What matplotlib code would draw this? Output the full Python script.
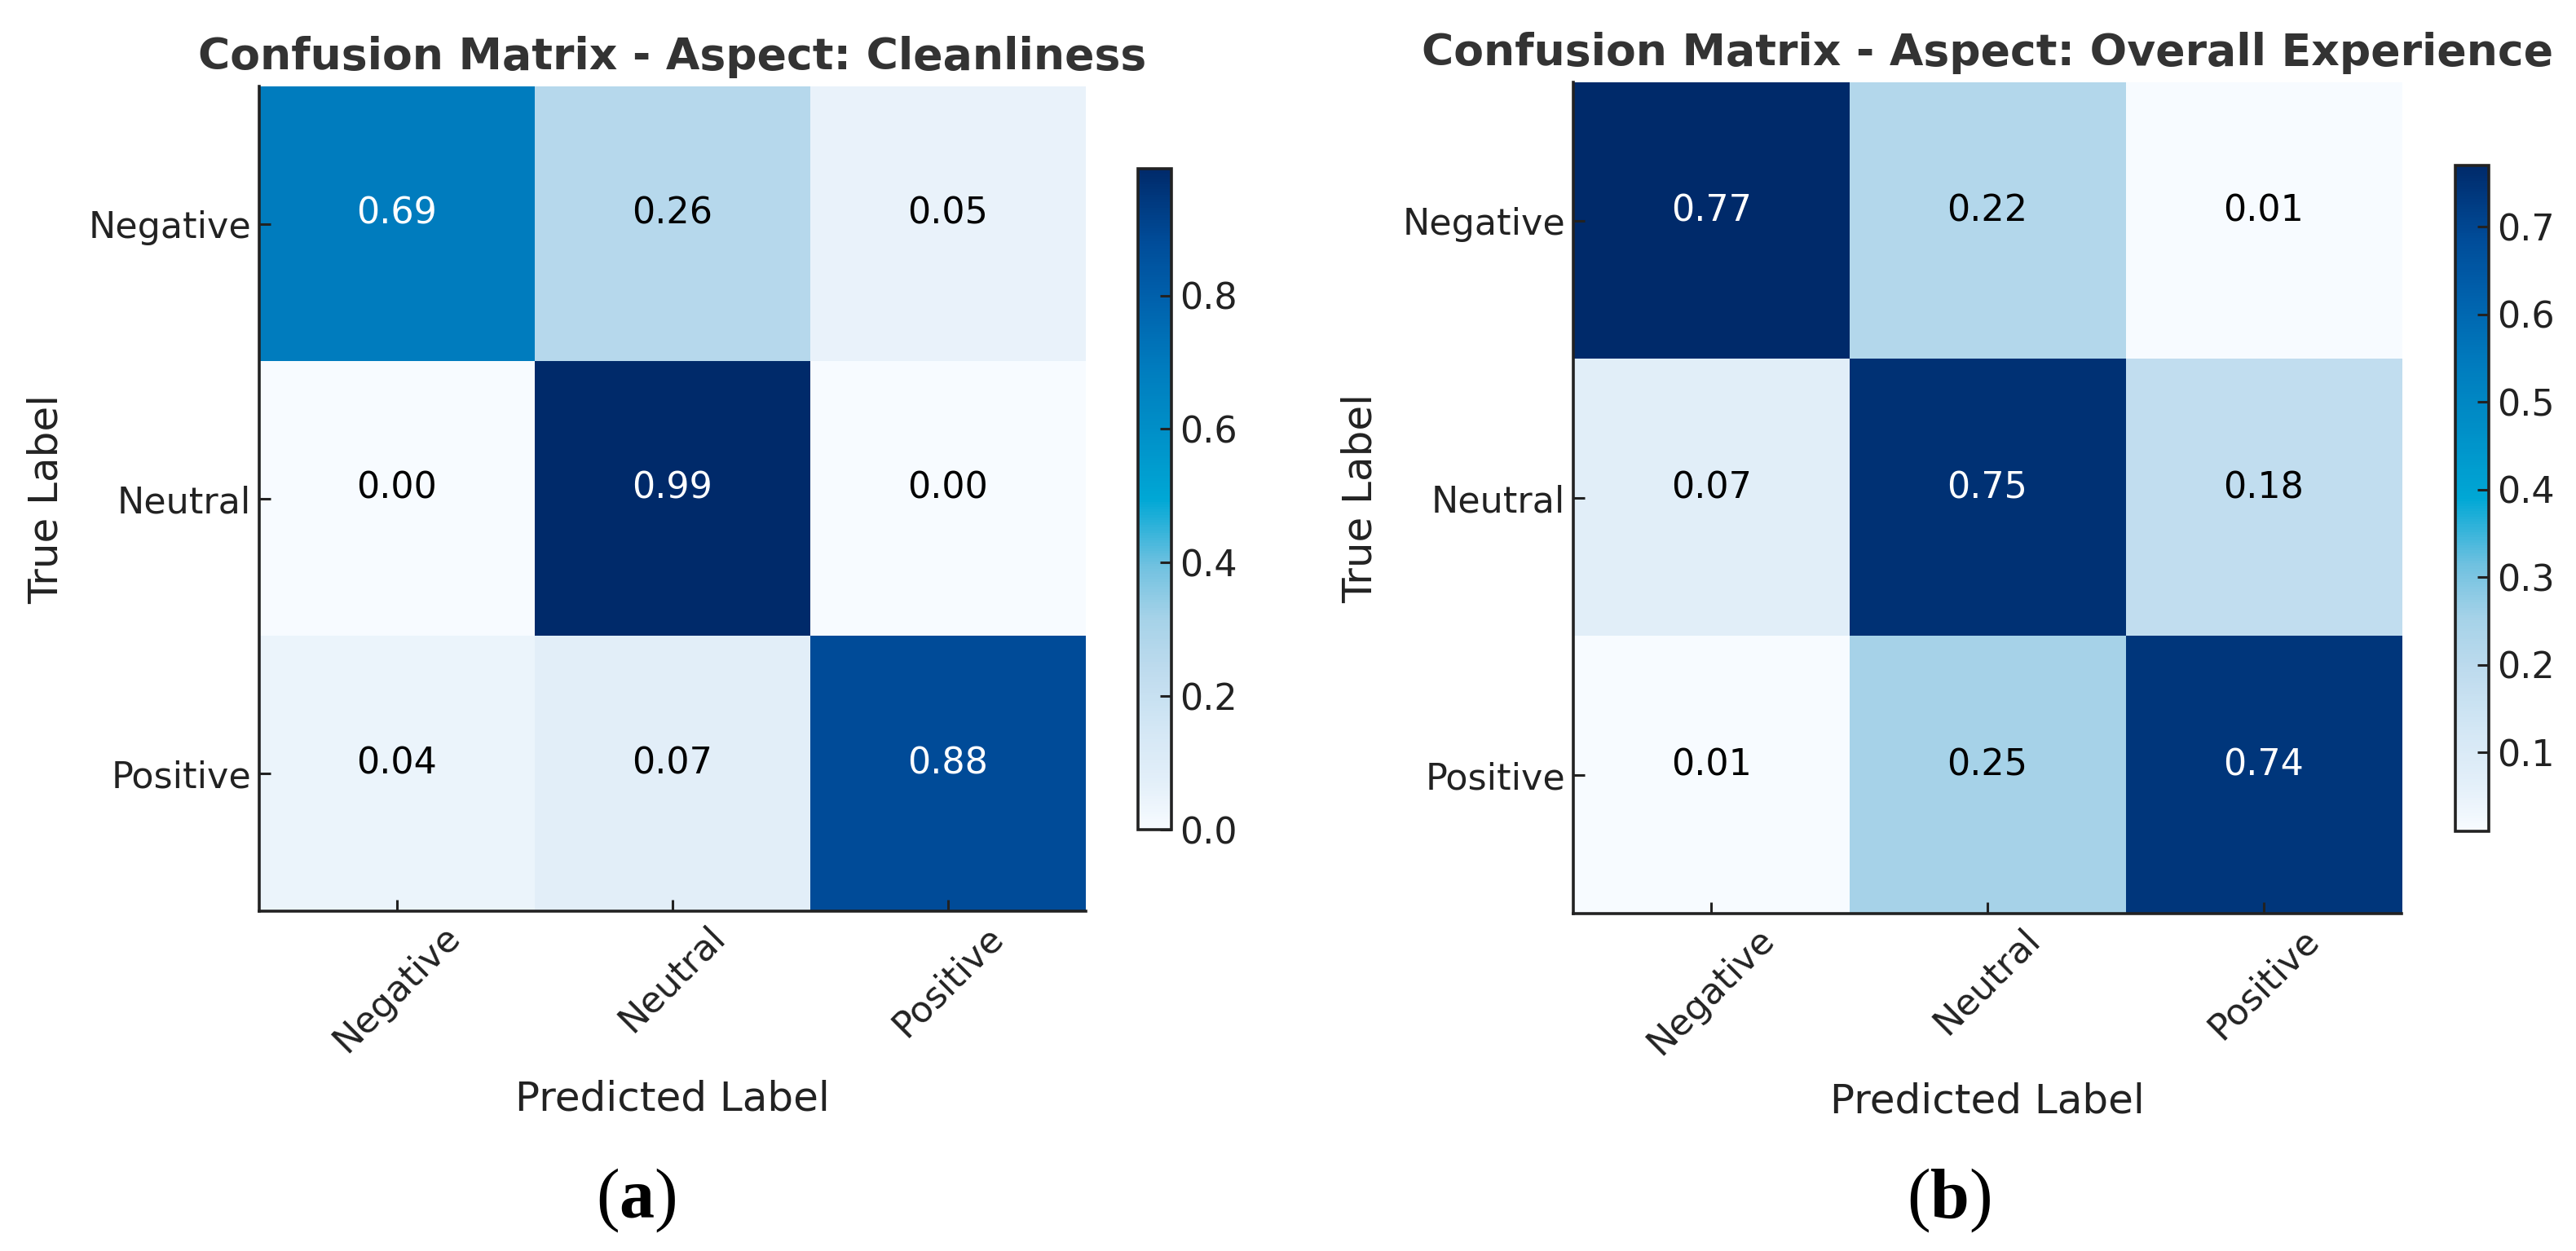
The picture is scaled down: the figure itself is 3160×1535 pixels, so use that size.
import numpy as np
import matplotlib.pyplot as plt
from matplotlib.colors import LinearSegmentedColormap

# Datos de las dos matrices de confusión
class_labels = ['Negative', 'Neutral', 'Positive']
cm_cleanliness = [[0.69, 0.26, 0.05],
                  [0.00, 0.99, 0.00],
                  [0.04, 0.07, 0.88]]
cm_overall = [[0.77, 0.22, 0.01],
              [0.07, 0.75, 0.18],
              [0.01, 0.25, 0.74]]
titles = ['Confusion Matrix - Aspect: Cleanliness',
          'Confusion Matrix - Aspect: Overall Experience']
cbar_ticks_a = [0.0, 0.2, 0.4, 0.6, 0.8]
cbar_ticks_b = [0.1, 0.2, 0.3, 0.4, 0.5, 0.6, 0.7]
panel_tags = ['a', 'b']

# Configuración
W, H = 3160, 1535
plt.rcParams['font.family'] = ['DejaVu Sans']
plt.rcParams['mathtext.fontset'] = 'custom'
plt.rcParams['mathtext.bf'] = 'Liberation Serif:bold'
plt.rcParams['mathtext.rm'] = 'Liberation Serif'

INK = '#222222'

blues = LinearSegmentedColormap.from_list('blues_vivid', [
    (0.00, '#f7fbff'),
    (0.07, '#e3eff9'),
    (0.15, '#d4e7f5'),
    (0.25, '#bbdaed'),
    (0.32, '#a5d2e8'),
    (0.40, '#6fc1e0'),
    (0.50, '#00a7d5'),
    (0.60, '#0090c8'),
    (0.70, '#007cbe'),
    (0.80, '#0062ad'),
    (0.89, '#004c99'),
    (0.96, '#00377c'),
    (1.00, '#002a6a'),
])


def px_box(x0, y0, x1, y1):
    """Caja en píxeles de la imagen -> fracción de figura"""
    return [x0 / W, 1 - y1 / H, (x1 - x0) / W, (y1 - y0) / H]


fig = plt.figure(figsize=(W / 200, H / 200), dpi=200)

panels = [
    (cm_cleanliness, titles[0], cbar_ticks_a,
     px_box(318, 106, 1332, 1118), px_box(1396, 207, 1437, 1018), (780, 1473)),
    (cm_overall, titles[1], cbar_ticks_b,
     px_box(1930, 101, 2946, 1121), px_box(3012, 203, 3053, 1020), (2391, 1473)),
]

for k, (cm, title, cticks, ax_box, cb_box, tag_xy) in enumerate(panels):
    data = np.array(cm)
    ax = fig.add_axes(ax_box)
    im = ax.imshow(data, cmap=blues, interpolation='nearest', aspect='auto')

    thresh = data.max() / 2
    for i in range(data.shape[0]):
        for j in range(data.shape[1]):
            ax.text(j, i, f"{data[i, j]:.2f}", ha='center', va='baseline',
                    fontsize=16, color='white' if data[i, j] > thresh else 'black')

    ax.set_xticks(range(len(class_labels)))
    ax.set_yticks(range(len(class_labels)))
    ax.set_xticklabels(class_labels, rotation=45)
    ax.set_yticklabels(class_labels)
    ax.tick_params(direction='in', length=5, width=1.1, color=INK,
                   labelsize=16, labelcolor=INK)
    for side in ['top', 'right']:
        ax.spines[side].set_visible(False)
    for side in ['left', 'bottom']:
        ax.spines[side].set_linewidth(1.3)
        ax.spines[side].set_color(INK)

    ax.set_title(title, fontsize=19.3, fontweight='bold', color='#333333', pad=7.5)
    ax.set_xlabel('Predicted Label', fontsize=18, color=INK, labelpad=9)
    ax.set_ylabel('True Label', fontsize=18, color=INK, labelpad=10)

    cax = fig.add_axes(cb_box)
    cbar = fig.colorbar(im, cax=cax, ticks=cticks)
    cbar.outline.set_linewidth(1.3)
    cbar.outline.set_edgecolor(INK)
    cbar.ax.tick_params(direction='in', length=5, width=1.1, color=INK,
                        labelsize=16, labelcolor=INK)
    cbar.ax.set_yticklabels([f"{t:.1f}" for t in cticks])

    fig.text(tag_xy[0] / W, 1 - tag_xy[1] / H, '($\\mathbf{' + panel_tags[k] + '}$)',
             family='Liberation Serif', fontsize=31, ha='center', va='center')

plt.savefig('out.png', dpi=200, facecolor='white')
